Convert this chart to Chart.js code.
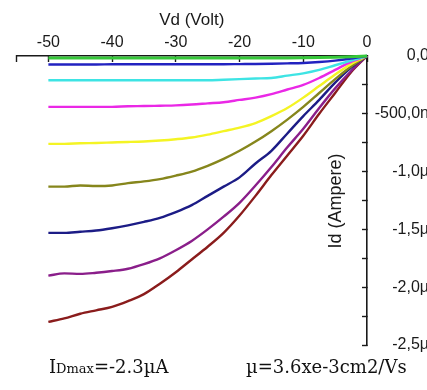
<!DOCTYPE html>
<html>
<head>
<meta charset="utf-8">
<title>Id - Vd</title>
<script src="https://cdn.jsdelivr.net/npm/chart.js@4.4.1/dist/chart.umd.min.js"></script>
<style>
  html, body { margin: 0; padding: 0; background: #fff; overflow: hidden; }
  #wrap { width: 427px; height: 390px; overflow: hidden; }
</style>
</head>
<body>
<div id="wrap"><canvas id="chart" width="429" height="390"></canvas></div>
<script>
// drain voltage (V) and drain current (µA), one array per gate step
const vd = [-50, -47.5, -45, -42.5, -40, -37.5, -35, -32.5, -30, -27.5, -25,
            -22.5, -20, -17.5, -15, -12.5, -10, -7.5, -5, -2.5, 0];

const idGreen   = [-0.018, -0.018, -0.018, -0.018, -0.018, -0.018, -0.018, -0.018, -0.018, -0.018, -0.018,
                   -0.018, -0.018, -0.018, -0.017, -0.017, -0.016, -0.014, -0.011, -0.006, 0];
const idBlue    = [-0.074, -0.074, -0.073, -0.073, -0.072, -0.072, -0.072, -0.072, -0.072, -0.072, -0.071,
                   -0.071, -0.07, -0.069, -0.067, -0.064, -0.06, -0.052, -0.04, -0.022, 0];
const idCyan    = [-0.21, -0.21, -0.21, -0.21, -0.21, -0.21, -0.21, -0.21, -0.21, -0.21, -0.21,
                   -0.205, -0.20, -0.195, -0.19, -0.17, -0.15, -0.12, -0.08, -0.04, 0];
const idMagenta = [-0.44, -0.44, -0.44, -0.44, -0.44, -0.435, -0.433, -0.43, -0.427, -0.42, -0.41,
                   -0.40, -0.38, -0.36, -0.33, -0.29, -0.25, -0.19, -0.12, -0.05, 0];
const idYellow  = [-0.76, -0.76, -0.755, -0.752, -0.748, -0.744, -0.739, -0.731, -0.72, -0.705, -0.68,
                   -0.65, -0.62, -0.58, -0.52, -0.45, -0.36, -0.26, -0.16, -0.07, 0];
const idOlive   = [-1.13, -1.13, -1.12, -1.125, -1.12, -1.10, -1.085, -1.065, -1.035, -1.00, -0.95,
                   -0.89, -0.82, -0.74, -0.65, -0.55, -0.44, -0.32, -0.20, -0.09, 0];
const idNavy    = [-1.53, -1.53, -1.52, -1.51, -1.49, -1.465, -1.435, -1.40, -1.35, -1.29, -1.21,
                   -1.13, -1.05, -0.93, -0.82, -0.67, -0.52, -0.38, -0.23, -0.10, 0];
const idPurple  = [-1.90, -1.88, -1.885, -1.875, -1.86, -1.84, -1.80, -1.75, -1.68, -1.60, -1.50,
                   -1.39, -1.27, -1.12, -0.96, -0.79, -0.63, -0.45, -0.28, -0.13, 0];
const idWine    = [-2.30, -2.27, -2.23, -2.20, -2.17, -2.12, -2.06, -1.97, -1.87, -1.76, -1.65,
                   -1.53, -1.38, -1.21, -1.03, -0.86, -0.69, -0.50, -0.32, -0.14, 0];

const xTickValues = [-55, -50, -40, -30, -20, -10, 0];
const xTickLabels = ['', '-50', '-40', '-30', '-20', '-10', '0'];
const yTickValues = [-2.5, -2.25, -2, -1.75, -1.5, -1.25, -1, -0.75, -0.5, -0.25, 0];
const yTickLabels = ['-2,5µ', '', '-2,0µ', '', '-1,5µ', '', '-1,0µ', '', '-500,0n', '', '0,0'];

const AXIS = '#1a1a1a';
const SANS = '"Liberation Sans", Arial, sans-serif';
const SERIF = '"DejaVu Serif", serif';

function series(values, color, width) {
    return {
        data: vd.map(function (v, i) { return { x: v, y: values[i] }; }),
        borderColor: color,
        borderWidth: width || 2.4,
        pointRadius: 0,
        cubicInterpolationMode: 'monotone',
        clip: false
    };
}

// y title sits inside the plot and reads bottom to top, plus the two notes under the chart
var extraText = {
    id: 'extraText',
    afterDraw: function (chart) {
        var ctx = chart.ctx;
        var area = chart.chartArea;
        ctx.save();
        ctx.fillStyle = AXIS;
        ctx.translate(area.right - 31, 201);
        ctx.rotate(-Math.PI / 2);
        ctx.font = '18px ' + SANS;
        ctx.textAlign = 'center';
        ctx.textBaseline = 'middle';
        ctx.fillText('Id (Ampere)', 0, 0);
        ctx.restore();

        ctx.save();
        ctx.fillStyle = '#111';
        ctx.textBaseline = 'alphabetic';
        var x = 49, y = 373;
        ctx.font = '18px ' + SERIF;
        ctx.fillText('I', x, y);
        x += ctx.measureText('I').width;
        ctx.font = '13px ' + SERIF;
        ctx.fillText('Dmax', x, y);
        x += ctx.measureText('Dmax').width;
        ctx.font = '18px ' + SERIF;
        ctx.fillText('=-2.3µA', x, y);
        ctx.fillText('µ=3.6xe-3cm2/Vs', 246, y);
        ctx.restore();
    }
};

new Chart(document.getElementById('chart'), {
    type: 'line',
    data: {
        datasets: [
            series(idGreen, '#36c83a', 3),
            series(idBlue, '#2222c0'),
            series(idCyan, '#3ee4e4'),
            series(idMagenta, '#ea28e6'),
            series(idYellow, '#f4f424'),
            series(idOlive, '#86861c'),
            series(idNavy, '#1c1c86'),
            series(idPurple, '#8a1e8a'),
            series(idWine, '#8a1c1c')
        ]
    },
    options: {
        responsive: false,
        animation: false,
        layout: { padding: { left: 16.5, top: 0, right: 0, bottom: 45 } },
        plugins: {
            legend: { display: false },
            tooltip: { enabled: false }
        },
        scales: {
            x: {
                type: 'linear',
                position: 'top',
                min: -55,
                max: 0,
                afterBuildTicks: function (scale) {
                    scale.ticks = xTickValues.map(function (v) { return { value: v }; });
                },
                afterFit: function (scale) { scale.height = 56; },
                ticks: {
                    autoSkip: false,
                    maxRotation: 0,
                    padding: 10,
                    color: AXIS,
                    font: { family: SANS, size: 16 },
                    callback: function (value, index) { return xTickLabels[index]; }
                },
                grid: {
                    drawOnChartArea: false,
                    tickLength: -6,
                    tickWidth: 1.4,
                    tickColor: AXIS
                },
                border: { color: AXIS, width: 1.6 },
                title: {
                    display: true,
                    text: 'Vd (Volt)',
                    color: AXIS,
                    font: { family: SANS, size: 17 },
                    padding: { top: 10, bottom: 2.4 }
                }
            },
            y: {
                type: 'linear',
                position: 'right',
                min: -2.5,
                max: 0,
                afterBuildTicks: function (scale) {
                    scale.ticks = yTickValues.map(function (v) { return { value: v }; });
                },
                afterFit: function (scale) { scale.width = 62; },
                ticks: {
                    autoSkip: false,
                    crossAlign: 'far',
                    padding: 12.8,
                    color: AXIS,
                    font: { family: SANS, size: 16 },
                    callback: function (value, index) { return yTickLabels[index]; }
                },
                grid: {
                    drawOnChartArea: false,
                    tickLength: -5,
                    tickWidth: 1.4,
                    tickColor: AXIS
                },
                border: { color: AXIS, width: 1.6 }
            }
        }
    },
    plugins: [extraText]
});
</script>
</body>
</html>
